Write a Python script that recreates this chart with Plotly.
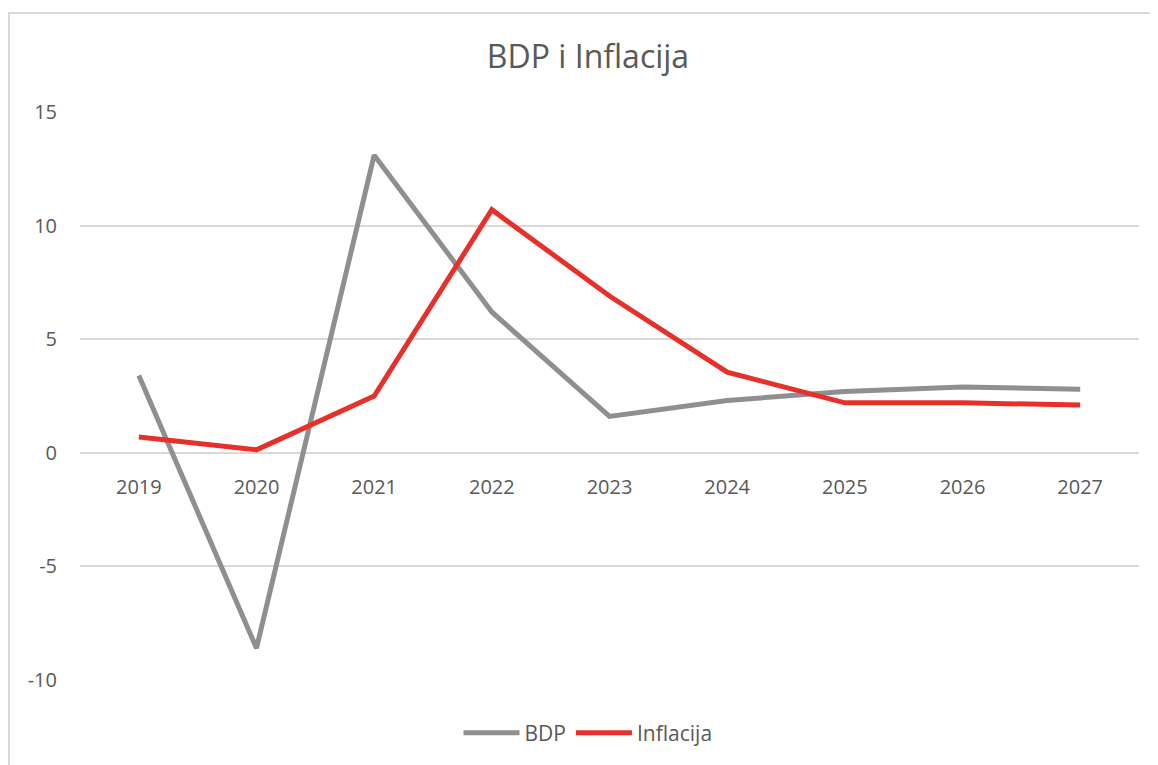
import plotly.graph_objects as go

years = ["2019", "2020", "2021", "2022", "2023", "2024", "2025", "2026", "2027"]
bdp = [3.4, -8.6, 13.1, 6.2, 1.6, 2.3, 2.7, 2.9, 2.8]
inflacija = [0.7, 0.13, 2.5, 10.7, 6.9, 3.55, 2.2, 2.2, 2.1]
y_ticks = [-10, -5, 0, 5, 10, 15]
y_tick_text = ["-10", "-5", "0", "5", "10", "15"]

OFF = 8  # page body margin
W, H = 1158 - OFF, 765 - OFF
ml, mt = 80 - OFF, 112 - OFF
plot_right, plot_bottom = 1139 - OFF, 680 - OFF
mr, mb = W - plot_right, H - plot_bottom
pw, ph = W - ml - mr, H - mt - mb

text_color = "#595959"
font_family = "Open Sans, Liberation Sans, sans-serif"

fig = go.Figure()
fig.add_trace(go.Scatter(x=years, y=bdp, mode="lines", name="BDP",
                         line=dict(color="#8f8f8f", width=5)))
fig.add_trace(go.Scatter(x=years, y=inflacija, mode="lines", name="Inflacija",
                         line=dict(color="#e8302a", width=5)))

# chart frame
fig.add_shape(type="rect", xref="paper", yref="paper",
              x0=(9 - 80) / pw, x1=(1156 - 80) / pw,
              y0=-0.3, y1=1 + (112 - 13) / ph,
              line=dict(color="#d9d9d9", width=2), fillcolor="rgba(0,0,0,0)",
              layer="below")

fig.update_layout(
    width=W, height=H,
    margin=dict(l=ml, r=mr, t=mt, b=mb),
    paper_bgcolor="white", plot_bgcolor="white",
    title=dict(text="BDP i Inflacija", x=(588 - OFF) / W, xref="container",
               xanchor="center",
               y=1 - (57 - OFF) / H, yanchor="middle",
               font=dict(family=font_family, size=32, color=text_color)),
    font=dict(family=font_family, color=text_color, size=20),
    showlegend=True,
    legend=dict(orientation="h", x=(588 - 80) / pw, xanchor="center",
                y=-(733 - 680) / ph, yanchor="middle",
                font=dict(size=21, color=text_color), itemwidth=56),
    xaxis=dict(type="category", range=[-0.5, 8.5], showgrid=False,
               showline=False, zeroline=False, ticks="",
               anchor="free", position=(0 - (-10)) / 25,
               ticklabelstandoff=20,
               tickfont=dict(size=20, color=text_color)),
    yaxis=dict(range=[-10, 15], tickvals=y_ticks, ticktext=y_tick_text,
               showgrid=True, gridcolor="#d9d9d9", gridwidth=2, zeroline=False,
               showline=False, ticks="", ticklabelstandoff=22,
               tickfont=dict(size=20, color=text_color)),
)

fig.write_html("out.html")
